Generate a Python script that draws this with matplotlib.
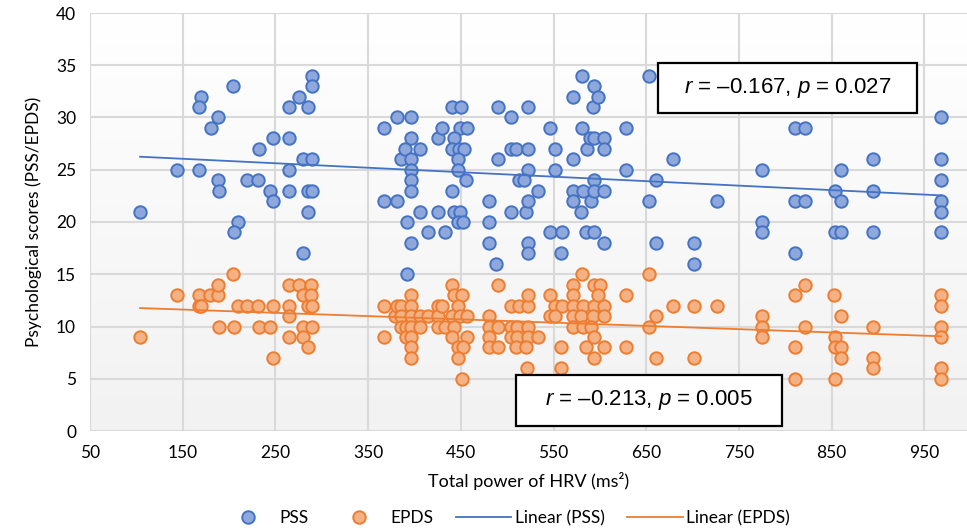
import numpy as np
import matplotlib
matplotlib.use("Agg")
import matplotlib.pyplot as plt
from matplotlib.patches import Rectangle
from matplotlib.lines import Line2D

plt.rcParams['mathtext.fontset'] = 'custom'
plt.rcParams['mathtext.rm'] = 'Liberation Sans'
plt.rcParams['mathtext.it'] = 'Liberation Sans:italic'

pss_x = [104, 143.5, 167.6, 170, 167.6, 187.7, 180, 187.7, 189.5, 204, 210, 205.7, 219.7, 230.8,
         232.6, 244, 247, 247, 264.7, 264.7, 264.7, 264.7, 275.8, 280, 289, 289, 289, 285, 285,
         289, 285, 279.5, 367.5, 367.5, 381.5, 381.5, 386, 390, 396, 396, 396, 396, 396, 396,
         392, 396, 392, 406, 406, 415, 425, 425, 430, 433, 440, 450, 449, 457, 443, 440, 448,
         453, 447, 447, 456, 441, 443, 449, 447, 452, 480, 480, 480, 488, 490, 490.5, 504, 504,
         509, 522, 522, 522, 513, 518, 504, 520, 522, 522, 522, 533, 546, 546, 551.6, 551.6,
         558, 559, 571.4, 571.4, 571, 571, 581, 581, 582, 580, 585, 585.7, 589, 590, 593.5,
         593, 594, 594, 594, 594, 598, 604, 604, 604, 604, 628, 628, 653.5, 653.5, 660.6,
         660.6, 679, 701, 701, 726, 775, 775, 775, 810.5, 821, 810.5, 821, 810.5, 854, 860,
         860, 854, 860, 895, 895, 895, 968, 968, 968, 968, 968, 968]
pss_y = [21, 25, 25, 32, 31, 30, 29, 24, 23, 33, 20, 19, 24, 24,
         27, 23, 22, 28, 28, 25, 23, 31, 32, 26, 26, 34, 33, 31, 23,
         23, 21, 17, 29, 22, 30, 22, 26, 27, 30, 28, 26, 25, 24, 23,
         20, 18, 15, 27, 21, 19, 28, 21, 29, 19, 31, 31, 29, 29, 28, 27, 27,
         27, 26, 25, 24, 23, 21, 21, 20, 20, 22, 20, 18, 16, 31, 26, 30, 27,
         27, 27, 31, 25, 24, 24, 21, 21, 22, 18, 17, 23, 29, 19, 27, 25,
         17, 19, 32, 26, 23, 22, 34, 29, 23, 21, 19, 27, 28, 22, 33,
         31, 28, 24, 23, 19, 32, 28, 27, 23, 18, 29, 25, 34, 22, 24,
         18, 26, 18, 16, 22, 25, 20, 19, 29, 29, 22, 22, 17, 23, 25,
         22, 19, 19, 26, 23, 19, 30, 26, 24, 22, 21, 19]

epds_x = [104, 143.5, 167.6, 167.6, 170, 179.4, 187.7, 187.7, 189.5, 204, 205.7, 210, 219.7, 230.8,
          232.6, 244, 247, 247, 264.7, 264.7, 264.7, 264.7, 275.8, 280, 280, 280, 285, 285, 288.5,
          288.5, 289, 289, 367.5, 367.5, 379, 381, 386, 386, 386, 391, 391, 396, 396, 396, 396,
          396, 396, 396, 406, 406, 415, 425, 425, 425, 430, 433, 441, 443, 451, 447, 440, 449,
          457, 443, 441, 457, 447, 452, 447, 451, 480.4, 480.4, 489.6, 480.4, 480, 490, 490, 504,
          513, 522, 522, 504, 511, 522, 504, 511, 522, 509, 520, 521, 533, 546, 551.6, 559, 546,
          551.6, 571.4, 581, 571.4, 571, 582, 594, 604, 571, 580, 593, 604, 571, 582, 590, 594,
          600, 598, 594, 558, 585, 604, 594, 558, 628, 628, 653.5, 660.6, 653.5, 660.6, 679, 701,
          726, 701, 775, 775, 775, 810.5, 821, 821, 810.5, 810.5, 852, 860, 854, 854, 860, 860,
          854, 895, 895, 895, 968, 968, 968, 968, 968, 968]
epds_y = [9, 13, 13, 12, 12, 13, 13, 14, 10, 15, 10, 12, 12, 12,
          10, 10, 12, 7, 14, 12, 11, 9, 14, 13, 10, 9, 12, 8, 14,
          13, 12, 10, 12, 9, 11, 12, 12, 11, 10, 10, 9, 13, 12, 11, 10,
          9, 8, 7, 11, 10, 11, 12, 11, 10, 12, 10, 14, 13, 13, 12, 11, 11,
          11, 10, 9, 9, 8, 8, 7, 5, 11, 10, 10, 9, 8, 8, 14, 12,
          12, 12, 13, 10, 10, 10, 9, 9, 9, 8, 8, 6, 9, 13, 12, 12, 11,
          11, 14, 15, 13, 12, 12, 12, 12, 11, 11, 11, 11, 10, 10, 10, 14,
          14, 13, 9, 8, 8, 8, 7, 6, 13, 8, 15, 11, 10, 7, 12, 12,
          12, 7, 11, 10, 9, 13, 14, 10, 8, 5, 13, 11, 9, 8, 8, 7,
          5, 10, 7, 6, 13, 12, 10, 9, 6, 5]

x_ticks = [50, 150, 250, 350, 450, 550, 650, 750, 850, 950]
y_ticks = [0, 5, 10, 15, 20, 25, 30, 35, 40]

BLUE_E, BLUE_F = '#4472C4', '#8FA8DC'
ORANGE_E, ORANGE_F = '#ED7D31', '#F4B183'

W, H = 967, 532
fig = plt.figure(figsize=(W / 100, H / 100), dpi=100)
ax = fig.add_axes([90 / W, 101 / H, (W - 90) / W, 418 / H])

# subtle vertical gradient background
grad = np.linspace(0, 1, 256).reshape(-1, 1)
ax.imshow(grad, extent=[0, 1, 0, 1], transform=ax.transAxes, aspect='auto',
          cmap=matplotlib.colors.LinearSegmentedColormap.from_list('g', ['#F2F2F2', '#FFFFFF']),
          origin='lower', zorder=0)

ax.set_xlim(50, 996)
ax.set_ylim(0, 40)
ax.set_xticks(x_ticks)
ax.set_yticks(y_ticks)
ax.grid(True, color='#D9D9D9', linewidth=1.5, zorder=1)
for s in ax.spines.values():
    s.set_visible(False)
ax.tick_params(length=0, labelsize=12.5, pad=10)
for lab in ax.get_xticklabels() + ax.get_yticklabels():
    lab.set_fontfamily('Lato')

ax.scatter(pss_x, pss_y, s=80, facecolor=BLUE_F, edgecolor=BLUE_E, linewidth=1.4, zorder=3)
ax.scatter(epds_x, epds_y, s=80, facecolor=ORANGE_F, edgecolor=ORANGE_E, linewidth=1.4, zorder=3)

for xs, ys, c in [(pss_x, pss_y, BLUE_E), (epds_x, epds_y, ORANGE_E)]:
    xs = np.asarray(xs, float); ys = np.asarray(ys, float)
    k, b = np.polyfit(xs, ys, 1)
    xl = np.array([xs.min(), xs.max()])
    ax.plot(xl, k * xl + b, color=c, linewidth=1.3, zorder=4)

ax.set_xlabel('Total power of HRV (ms²)', fontsize=13, family='Lato', labelpad=8)
ax.set_ylabel('Psychological scores (PSS/EPDS)', fontsize=12.5, family='Lato', labelpad=10)

# annotation boxes (pixel placements)
def box(x0, y0, x1, y1, txt):
    fig.patches.append(Rectangle((x0 / W, 1 - y1 / H), (x1 - x0) / W, (y1 - y0) / H,
                                 transform=fig.transFigure, facecolor='white',
                                 edgecolor='black', linewidth=1.6, zorder=10))
    fig.text((x0 + x1) / 2 / W, 1 - (y0 + y1) / 2 / H, txt, ha='center', va='center',
             fontsize=16, family='Liberation Sans', zorder=11)

box(658, 63, 917, 113, r'$\it{r}$ = –0.167, $\it{p}$ = 0.027')
box(516, 375, 782, 426, r'$\it{r}$ = –0.213, $\it{p}$ = 0.005')

handles = [
    Line2D([], [], linestyle='none', marker='o', markersize=9, markerfacecolor=BLUE_F,
           markeredgecolor=BLUE_E, markeredgewidth=1.4),
    Line2D([], [], linestyle='none', marker='o', markersize=9, markerfacecolor=ORANGE_F,
           markeredgecolor=ORANGE_E, markeredgewidth=1.4),
    Line2D([], [], color=BLUE_E, linewidth=1.3),
    Line2D([], [], color=ORANGE_E, linewidth=1.3),
]
fig.legend(handles, ['PSS', 'EPDS', 'Linear (PSS)', 'Linear (EPDS)'], loc='center',
           bbox_to_anchor=(505 / W, 1 - 518 / H), ncol=4, frameon=False,
           prop={'family': 'Lato', 'size': 12.5}, handlelength=3.2, columnspacing=1.3,
           handletextpad=0.2)

fig.savefig('out.png', dpi=100)
